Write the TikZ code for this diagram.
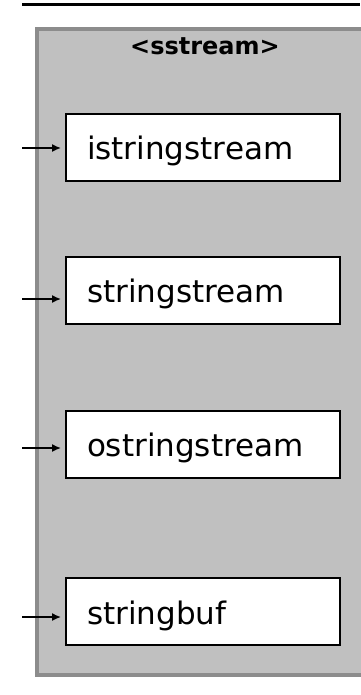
\documentclass[tikz,border=0pt]{standalone}
\usepackage{fontspec}
\setmainfont{DejaVu Sans}
\usetikzlibrary{arrows.meta}
\definecolor{panelgray}{HTML}{C0C0C0}
\definecolor{edgegray}{HTML}{8C8C8C}
\begin{document}
\begin{tikzpicture}[x=1pt,y=-1pt,
  classbox/.style={draw=black, line width=2pt, fill=white, minimum width=274pt,
    minimum height=67pt, inner xsep=20pt, inner ysep=0pt, text width=232pt, align=left,
    text height=25pt, text depth=0pt, font=\fontsize{31}{31}\selectfont},
  feed/.style={line width=1.5pt, -{Latex[length=9pt,width=8pt]}, shorten >=4pt}]
\useasboundingbox (0,0) rectangle (360,695);
% top rule
\draw[line width=3pt] (22,5) -- (360,5);
% panel
\fill[edgegray] (35,27) rectangle (370,677);
\fill[panelgray] (39,31) rectangle (370,673);
\node[font=\bfseries\fontsize{24}{24}\selectfont, anchor=base] (title) at (205,55) {<sstream>};
% boxes
\node[classbox] (b1) at (203,147.5) {istringstream};
\node[classbox] (b2) at (203,290) {stringstream};
\node[classbox] (b3) at (203,444) {ostringstream};
\node[classbox] (b4) at (203,611.5) {stringbuf};
% feed points
\coordinate (a1) at (22,148);
\coordinate (a2) at (22,299);
\coordinate (a3) at (22,448);
\coordinate (a4) at (22,617);
\draw[feed] (a1) -- (a1 -| b1.west);
\draw[feed] (a2) -- (a2 -| b2.west);
\draw[feed] (a3) -- (a3 -| b3.west);
\draw[feed] (a4) -- (a4 -| b4.west);
\end{tikzpicture}
\end{document}
